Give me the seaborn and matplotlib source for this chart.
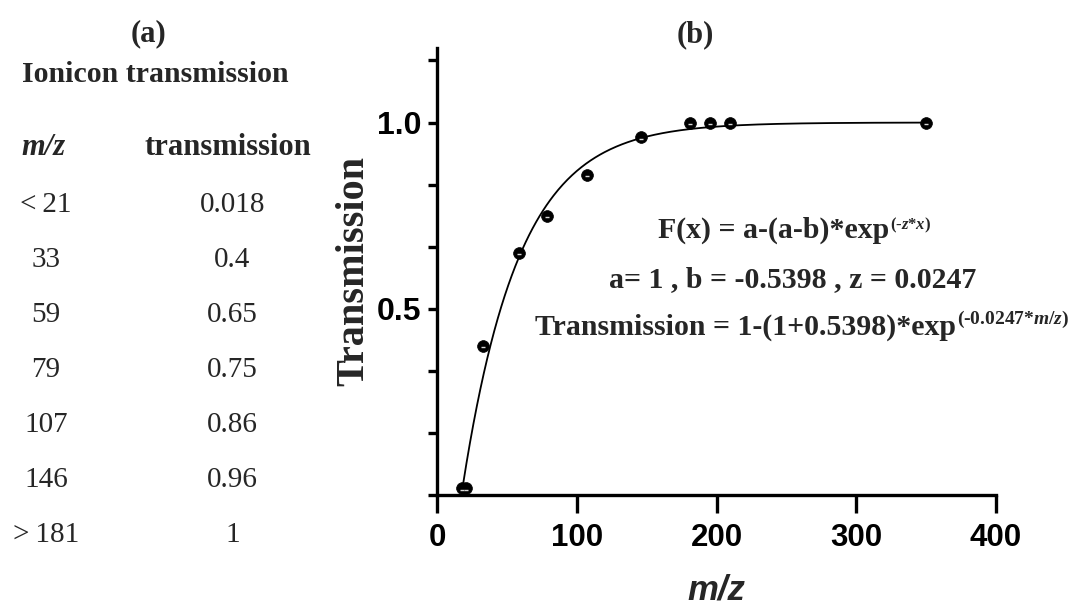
import numpy as np
import pandas as pd
import matplotlib
matplotlib.use("Agg")
import matplotlib.pyplot as plt
import seaborn as sns

# ---------------- data ----------------
# (a) table
table_mz = ["<\u200921", "33", "59", "79", "107", "146", ">\u2009181"]
table_trans = ["0.018", "0.4", "0.65", "0.75", "0.86", "0.96", "1"]

# (b) measured points
mz_points = [18, 21, 33, 59, 79, 107, 146, 181, 195, 210, 350]
trans_points = [0.018, 0.018, 0.4, 0.65, 0.75, 0.86, 0.96, 1.0, 1.0, 1.0, 1.0]

# fitted model parameters (as annotated)
fit_a, fit_b, fit_z = 1.0, -0.5398, 0.0247
fit_start, fit_end = 18.6, 350

x_ticks = [0, 100, 200, 300, 400]
y_tick_labels = ["", "", "", "0.5", "", "", "1.0", ""]

# ---------------- style ----------------
sns.set_style("ticks")
plt.rcParams["font.family"] = ["Liberation Sans", "DejaVu Sans"]
plt.rcParams["mathtext.fontset"] = "custom"
plt.rcParams["mathtext.rm"] = "Liberation Serif:bold"
plt.rcParams["mathtext.it"] = "Liberation Serif:italic:bold"
plt.rcParams["mathtext.bf"] = "Liberation Serif:bold"

W, H = 1069, 606
fig = plt.figure(figsize=(W / 100, H / 100), dpi=100)
fig.patch.set_facecolor("white")

ax = fig.add_axes([437 / W, 1 - 495 / H, (996 - 437) / W, (495 - 48) / H])
ax.set_facecolor("white")

# fitted curve
xs = np.linspace(fit_start, fit_end, 400)
ys = fit_a - (fit_a - fit_b) * np.exp(-fit_z * xs)
curve = pd.DataFrame({"mz": xs, "T": ys})
sns.lineplot(data=curve, x="mz", y="T", color="black", lw=1.3, ax=ax, zorder=2)

# points
pts = pd.DataFrame({"mz": mz_points, "T": trans_points})
sns.scatterplot(data=pts, x="mz", y="T", color="black", s=72, edgecolor="black",
                linewidth=0.5, ax=ax, zorder=3, clip_on=False)
ax.scatter(pts["mz"], pts["T"] - 0.004, marker="_", color="#d8d8d8", s=12,
           linewidths=1.0, zorder=4, clip_on=False)

ax.set_xlim(0, 400)
ax.set_ylim(0, 1.2)
ax.set_xticks(x_ticks)
ax.set_xticklabels([str(v) for v in x_ticks])
ax.set_yticks(np.arange(8) / 6)
ax.set_yticklabels(y_tick_labels)

sns.despine(ax=ax)
for s in ["left", "bottom"]:
    ax.spines[s].set_linewidth(2.4)
    ax.spines[s].set_color("black")

ax.tick_params(axis="x", length=13, width=2.4, pad=7, labelsize=22.5, colors="black")
ax.tick_params(axis="y", length=6.5, width=2.4, pad=4.5, labelsize=23, colors="black")
for lbl in ax.get_xticklabels() + ax.get_yticklabels():
    lbl.set_fontweight("bold")

ax.set_xlabel("m/z", fontsize=25, fontweight="bold", fontstyle="italic")
ax.xaxis.set_label_coords(0.5, -0.175)
ax.set_ylabel("Transmission", fontsize=29, fontweight="bold",
              family=["Liberation Serif", "DejaVu Serif"])
ax.yaxis.set_label_coords(-0.116, 0.5)

serif = ["Liberation Serif", "DejaVu Serif"]

# equations: main text, then smaller superscript placed after it
eq_fs = 21.5
eq_lines = [
    (658, 238, "F(x) = a-(a-b)*exp", r"(-$z$*$x$)", 12, 9),
    (609, 287, "a= 1 , b = -0.5398 , z = 0.0247", None, None, None),
    (535, 335, "Transmission = 1-(1+0.5398)*exp", r"(-0.0247*$m/z$)", 14, 11),
]
fig.canvas.draw()
renderer = fig.canvas.get_renderer()
for x0, yb, main, sup, sup_fs, raise_px in eq_lines:
    t = fig.text(x0 / W, 1 - yb / H, main, fontsize=eq_fs, fontweight="bold",
                 family=serif, ha="left", va="baseline")
    if sup:
        bb = t.get_window_extent(renderer)
        fig.text((bb.x1 + 1) / W, 1 - (yb - raise_px) / H, sup, fontsize=sup_fs,
                 fontweight="bold", family=serif, ha="left", va="baseline")

# panel labels
fig.text(148 / W, 1 - 41 / H, "(a)", fontsize=22, fontweight="bold", family=serif,
         ha="center", va="baseline")
fig.text(695 / W, 1 - 42 / H, "(b)", fontsize=22, fontweight="bold", family=serif,
         ha="center", va="baseline")

# table (a)
fig.text(155 / W, 1 - 82 / H, "Ionicon transmission", fontsize=21.5, fontweight="bold",
         family=serif, ha="center", va="baseline")
fig.text(43 / W, 1 - 155 / H, "m/z", fontsize=22, fontweight="bold", fontstyle="italic",
         family=serif, ha="center", va="baseline")
fig.text(228 / W, 1 - 155 / H, "transmission", fontsize=22, fontweight="bold",
         family=serif, ha="center", va="baseline")
row_base = [212, 267, 322, 377, 432, 487, 542]
for yb, m, t in zip(row_base, table_mz, table_trans):
    fig.text(46 / W, 1 - yb / H, m, fontsize=21, family=serif, ha="center", va="baseline")
    fig.text(232.5 / W, 1 - yb / H, t, fontsize=21, family=serif, ha="center", va="baseline")

fig.savefig("out.png", dpi=100, facecolor="white")
